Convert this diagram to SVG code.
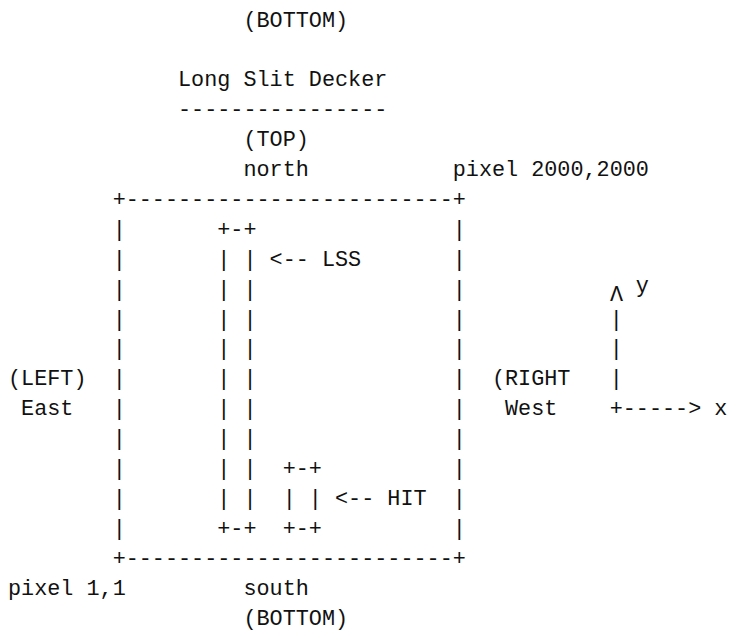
<svg xmlns="http://www.w3.org/2000/svg" width="731" height="630" viewBox="0 0 731 630">
<style>
  text { font-family: "Liberation Mono", "DejaVu Sans Mono", monospace; font-size: 21.8px; fill: #111; white-space: pre; }
</style>
<rect width="731" height="630" fill="#fff"/>

<g id="title">
  <text x="243.44" y="26.5">(BOTTOM)</text>
  <text x="178.04" y="86.3">Long Slit Decker</text>
  <text x="178.04" y="116.2">----------------</text>
</g>

<g id="compass">
  <text x="243.44" y="146.1">(TOP)</text>
  <text x="243.44" y="176">north</text>
  <text x="452.72" y="176">pixel 2000,2000</text>
  <text x="8" y="385.3">(LEFT)</text>
  <text x="21.08" y="415.2">East</text>
  <text x="491.96" y="385.3">(RIGHT</text>
  <text x="505.04" y="415.2">West</text>
  <text x="8" y="594.6">pixel 1,1</text>
  <text x="243.44" y="594.6">south</text>
  <text x="243.44" y="624.5">(BOTTOM)</text>
</g>

<g id="frame">
  <text x="112.64" y="205.9">+-------------------------+</text>
  <text x="112.64" y="235.8">|</text><text x="452.72" y="235.8">|</text>
  <text x="112.64" y="265.7">|</text><text x="452.72" y="265.7">|</text>
  <text x="112.64" y="295.6">|</text><text x="452.72" y="295.6">|</text>
  <text x="112.64" y="325.5">|</text><text x="452.72" y="325.5">|</text>
  <text x="112.64" y="355.4">|</text><text x="452.72" y="355.4">|</text>
  <text x="112.64" y="385.3">|</text><text x="452.72" y="385.3">|</text>
  <text x="112.64" y="415.2">|</text><text x="452.72" y="415.2">|</text>
  <text x="112.64" y="445.1">|</text><text x="452.72" y="445.1">|</text>
  <text x="112.64" y="475">|</text><text x="452.72" y="475">|</text>
  <text x="112.64" y="504.9">|</text><text x="452.72" y="504.9">|</text>
  <text x="112.64" y="534.8">|</text><text x="452.72" y="534.8">|</text>
  <text x="112.64" y="564.7">+-------------------------+</text>
</g>

<g id="lss">
  <text x="217.28" y="235.8">+-+</text>
  <text x="217.28" y="265.7">| |</text>
  <text x="217.28" y="295.6">| |</text>
  <text x="217.28" y="325.5">| |</text>
  <text x="217.28" y="355.4">| |</text>
  <text x="217.28" y="385.3">| |</text>
  <text x="217.28" y="415.2">| |</text>
  <text x="217.28" y="445.1">| |</text>
  <text x="217.28" y="475">| |</text>
  <text x="217.28" y="504.9">| |</text>
  <text x="217.28" y="534.8">+-+</text>
  <text x="321.92" y="265.7">LSS</text>
</g>

<g id="hit">
  <text x="282.68" y="475">+-+</text>
  <text x="282.68" y="504.9">| |</text>
  <text x="282.68" y="534.8">+-+</text>
  <text x="387.32" y="504.9">HIT</text>
</g>

<g id="axes">
  <text x="616.5" y="301" text-anchor="middle" font-size="17">Λ</text>
  <text x="635.84" y="292">y</text>
  <text x="609.68" y="325.5">|</text>
  <text x="609.68" y="355.4">|</text>
  <text x="609.68" y="385.3">|</text>
  <text x="609.68" y="415.2">+-----&gt; x</text>
</g>

<g id="connectors">
  <text x="269.6" y="265.7">&lt;--</text>
  <text x="334.99" y="504.9">&lt;--</text>
</g>
</svg>
